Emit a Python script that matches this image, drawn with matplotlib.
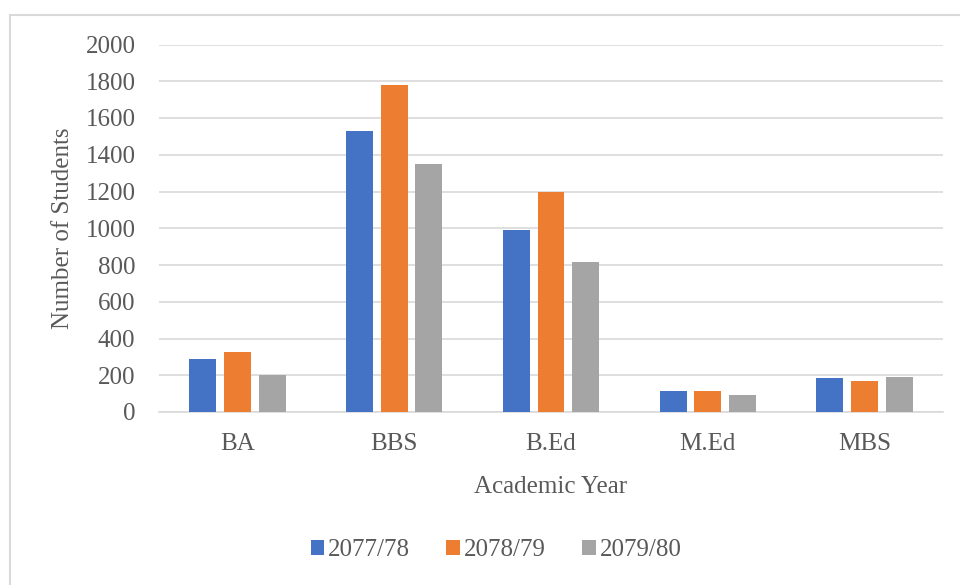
import numpy as np
import matplotlib
matplotlib.use("Agg")
from matplotlib import pyplot as plt
from matplotlib.patches import Rectangle

# values
programs = ["BA", "BBS", "B.Ed", "M.Ed", "MBS"]
years = ["2077/78", "2078/79", "2079/80"]
y2077 = [290, 1528, 990, 112, 183]
y2078 = [328, 1778, 1196, 114, 166]
y2079 = [202, 1350, 816, 91, 190]
yticks = [0, 200, 400, 600, 800, 1000, 1200, 1400, 1600, 1800, 2000]

colors = ["#4472C4", "#ED7D31", "#A5A5A5"]
txt = "#595959"
fs = 18

plt.rcParams["font.family"] = ["Liberation Serif", "DejaVu Serif"]

fig = plt.figure(figsize=(9.6, 5.85), dpi=100)
ax = fig.add_axes([159/960, 1-412/585, 784/960, 367.5/585])

x = np.arange(len(programs))
w = 0.172
step = 0.221
for i, (vals, lab) in enumerate(zip([y2077, y2078, y2079], years)):
    ax.bar(x + (i-1)*step, vals, width=w, color=colors[i], label=lab, zorder=3)

ax.set_xlim(-0.5, len(programs)-0.5)
ax.set_ylim(0, 2000)
ax.set_yticks(yticks)
ax.set_xticks(x)
ax.set_xticklabels(programs)
ax.grid(axis="y", color="#D9D9D9", linewidth=1.2, zorder=0)
for s in ["top", "right", "left"]:
    ax.spines[s].set_visible(False)
ax.spines["bottom"].set_color("#D9D9D9")
ax.spines["bottom"].set_linewidth(1.2)
ax.tick_params(axis="both", length=0, labelsize=fs, colors=txt)
ax.tick_params(axis="y", pad=17)
ax.tick_params(axis="x", pad=15)

ax.set_ylabel("Number of Students", fontsize=fs, color=txt, labelpad=8)
ax.set_xlabel("Academic Year", fontsize=fs, color=txt, labelpad=15)

leg = fig.legend(loc="center", bbox_to_anchor=(496/960, 1-550/585), ncol=3,
                 frameon=False, fontsize=fs, handlelength=0.55, handleheight=0.55,
                 handletextpad=0.15, columnspacing=1.45)
for t in leg.get_texts():
    t.set_color(txt)

# light frame, only top and left edges fall inside the picture
fig.patches.append(Rectangle((10/960, -0.1), 1.2, 1.1-15/585,
                             transform=fig.transFigure, fill=False,
                             edgecolor="#D9D9D9", linewidth=1.5))

fig.savefig("out.png", dpi=100)
